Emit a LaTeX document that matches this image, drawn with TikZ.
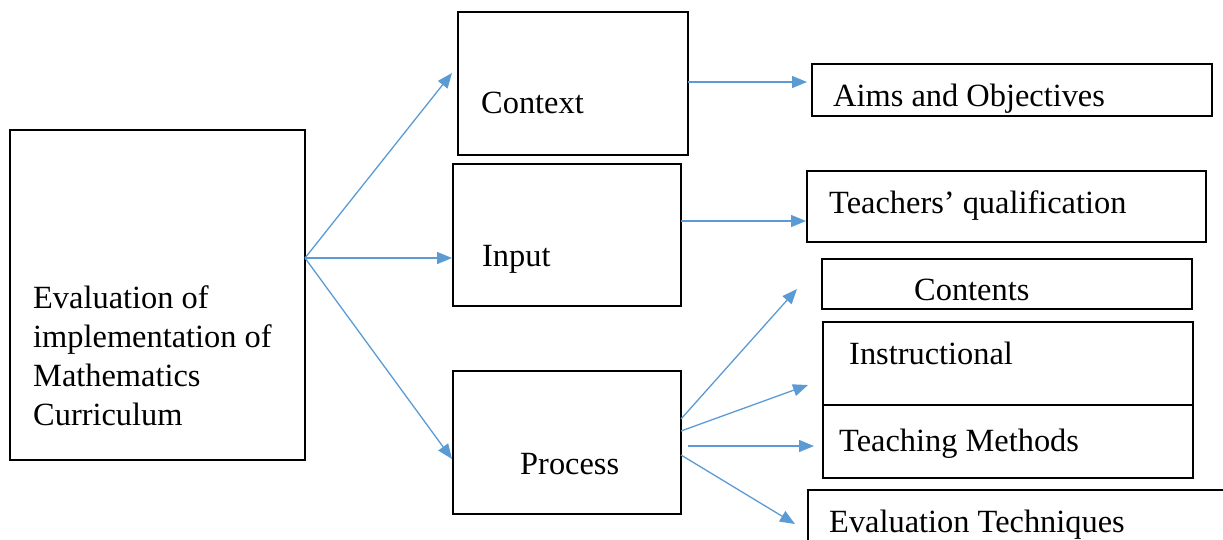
\documentclass[tikz,border=0pt]{standalone}
\usepackage{fontspec}
\setmainfont{Liberation Serif}
\usetikzlibrary{arrows.meta}
\definecolor{arrowblue}{HTML}{5B9BD5}
\begin{document}
\begin{tikzpicture}[x=1pt,y=-1pt,
  box/.style={draw=black, line width=2pt, rectangle, inner sep=0pt},
  lbl/.style={inner sep=0pt, font=\fontsize{32.4}{39.3}\selectfont},
  conn/.style={draw=arrowblue, line width=1.3pt, -{Triangle[length=15pt,width=12pt]}}]
\useasboundingbox (0,0) rectangle (1223,539);
\clip (0,0) rectangle (1223,539);
% boxes
\node[box, minimum width=295pt, minimum height=330pt] (left) at (157.5,295) {};
\node[box, minimum width=230pt, minimum height=143pt] (ctx) at (573,83.5) {};
\node[box, minimum width=228pt, minimum height=142pt] (inp) at (567,235) {};
\node[box, minimum width=228pt, minimum height=143pt] (proc) at (567,442.5) {};
\node[box, minimum width=400pt, minimum height=52pt] (aims) at (1012,90) {};
\node[box, minimum width=399pt, minimum height=71pt] (teach) at (1006.5,206.5) {};
\node[box, minimum width=370pt, minimum height=50pt] (cont) at (1007,284) {};
\node[box, minimum width=370pt, minimum height=83pt] (instr) at (1008,363.5) {};
\node[box, minimum width=370pt, minimum height=73pt] (tmeth) at (1008,441.5) {};
\node[box, minimum width=432pt, minimum height=70pt] (evalt) at (1024,525) {};
% labels
\node[lbl, anchor=north west, align=left] (tleft) at (33,285) {Evaluation of\\implementation of\\Mathematics\\Curriculum};
\node[lbl, anchor=base west] (tctx) at (481,113) {Context};
\node[lbl, anchor=base west] (tinp) at (482,266) {Input};
\node[lbl, anchor=base west] (tproc) at (520,474) {Process};
\node[lbl, anchor=base west] (taims) at (833,106) {Aims and Objectives};
\node[lbl, anchor=base west] (tteach) at (829,213) {Teachers’ qualification};
\node[lbl, anchor=base west] (tcont) at (914,300) {Contents};
\node[lbl, anchor=base west] (tinstr) at (849,364) {Instructional};
\node[lbl, anchor=base west] (ttmeth) at (839,451) {Teaching Methods};
\node[lbl, anchor=base west] (tevalt) at (829,532) {Evaluation Techniques};
% connector end points
\coordinate (s0) at (305,258);
\coordinate (e1) at (452,73);
\coordinate (e2) at (452,258);
\coordinate (e3) at (452,459);
\coordinate (s4) at (688,82);
\coordinate (e4) at (807,82);
\coordinate (s5) at (681,221);
\coordinate (e5) at (806,221);
\coordinate (s6) at (681,419);
\coordinate (e6) at (797,289);
\coordinate (s7) at (681,431);
\coordinate (e7) at (808,385);
\coordinate (s8) at (688,446);
\coordinate (e8) at (814,446);
\coordinate (s9) at (681,455);
\coordinate (e9) at (795,524);
% connectors
\draw[conn] (s0) -- (e1);
\draw[conn] (s0) -- (e2);
\draw[conn] (s0) -- (e3);
\draw[conn] (s4) -- (e4);
\draw[conn] (s5) -- (e5);
\draw[conn] (s6) -- (e6);
\draw[conn] (s7) -- (e7);
\draw[conn] (s8) -- (e8);
\draw[conn] (s9) -- (e9);
\end{tikzpicture}
\end{document}
